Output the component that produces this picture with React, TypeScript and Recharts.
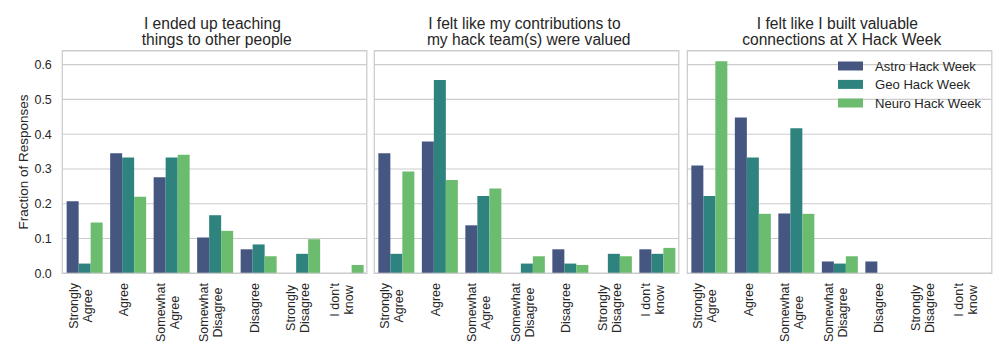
import React from "react";
import { BarChart, Bar, XAxis, YAxis, CartesianGrid } from "recharts";

const categories = [
  "Strongly\nAgree",
  "Agree",
  "Somewhat\nAgree",
  "Somewhat\nDisagree",
  "Disagree",
  "Strongly\nDisagree",
  "I don't\nknow",
];

const seriesNames = ["Astro Hack Week", "Geo Hack Week", "Neuro Hack Week"];
const seriesColors = ["#455681", "#2f837f", "#6bbc6e"];

const panelTitles = [
  ["I ended up teaching ", " things to other people"],
  ["I felt like my contributions to ", " my hack team(s) were valued"],
  ["I felt like I built valuable ", " connections at X Hack Week"],
];

// Panel 1: teaching
const teachingAstro = [0.207, 0.345, 0.276, 0.103, 0.069, 0, 0];
const teachingGeo = [0.028, 0.333, 0.333, 0.167, 0.083, 0.056, 0];
const teachingNeuro = [0.146, 0.22, 0.341, 0.122, 0.049, 0.098, 0.024];

// Panel 2: contributions valued
const valuedAstro = [0.345, 0.379, 0.138, 0, 0.069, 0, 0.069];
const valuedGeo = [0.056, 0.556, 0.222, 0.028, 0.028, 0.056, 0.056];
const valuedNeuro = [0.293, 0.268, 0.244, 0.049, 0.024, 0.049, 0.073];

// Panel 3: valuable connections
const connectAstro = [0.31, 0.448, 0.172, 0.034, 0.034, 0, 0];
const connectGeo = [0.222, 0.333, 0.417, 0.028, 0, 0, 0];
const connectNeuro = [0.61, 0.171, 0.171, 0.049, 0, 0, 0];

const yTicks = [0, 0.1, 0.2, 0.3, 0.4, 0.5, 0.6];
const yDomain = [0, 0.64];
const yLabel = "Fraction of Responses";

const panelSeries = [
  [teachingAstro, teachingGeo, teachingNeuro],
  [valuedAstro, valuedGeo, valuedNeuro],
  [connectAstro, connectGeo, connectNeuro],
];

const FONT = '"Liberation Sans", Arial, sans-serif';
const TEXT = "#262626";
const GRID = "#cccccc";
const PANEL_LEFTS = [62.3, 374.3, 687.3];
const PLOT_W = 304.5;
const PLOT_TOP = 50.7;
const PLOT_BOTTOM = 273.3;
const H = 360;

let ctx: CanvasRenderingContext2D | null = null;
function textWidth(s: string, size: number): number {
  if (!ctx) ctx = document.createElement("canvas").getContext("2d");
  if (!ctx) return s.length * size * 0.55;
  ctx.font = `${size}px "Liberation Sans"`;
  return ctx.measureText(s).width;
}

function XTick(props: any) {
  const { x, y, payload } = props;
  const lines = String(payload.value).split("\n");
  const fs = 12.5;
  const w = Math.max(...lines.map((l) => textWidth(l, fs)));
  const n = lines.length;
  const spacing = 14.2;
  return (
    <g transform={`translate(${x},${y + 9.7}) rotate(-90)`}>
      {lines.map((l, i) => (
        <text
          key={i}
          x={-w / 2}
          y={0.6 + (i - (n - 1) / 2) * spacing}
          textAnchor="middle"
          fontSize={fs}
          fill={TEXT}
          fontFamily={FONT}
        >
          {l}
        </text>
      ))}
    </g>
  );
}

function EmptyTick() {
  return <g />;
}

function Panel({ index }: { index: number }) {
  const [a, g, nn] = panelSeries[index];
  const data = categories.map((c, i) => ({ cat: c, astro: a[i], geo: g[i], neuro: nn[i] }));
  const first = index === 0;
  const yW = first ? PANEL_LEFTS[0] : 0;
  const left = first ? 0 : PANEL_LEFTS[index];
  const rightPad = 8;
  const width = yW + PLOT_W + rightPad;
  return (
    <div style={{ position: "absolute", left, top: 0, width, height: H }}>
      <BarChart
        width={width}
        height={H}
        data={data}
        margin={{ top: PLOT_TOP, right: rightPad, bottom: 0, left: 0 }}
        barCategoryGap="10%"
        barGap={0}
      >
        <CartesianGrid vertical={false} stroke={GRID} strokeWidth={1.1} />
        <XAxis
          dataKey="cat"
          height={H - PLOT_BOTTOM}
          tickLine={false}
          axisLine={false}
          tickSize={0}
          tickMargin={0}
          interval={0}
          tick={<XTick />}
        />
        <YAxis
          domain={yDomain}
          ticks={yTicks}
          width={yW}
          tickLine={false}
          axisLine={false}
          tickSize={0}
          tickMargin={10.5}
          tickFormatter={(v: number) => v.toFixed(1)}
          tick={first ? { fill: TEXT, fontSize: 12.5, fontFamily: FONT } : <EmptyTick />}
        />
        <Bar dataKey="astro" name={seriesNames[0]} fill={seriesColors[0]} isAnimationActive={false} />
        <Bar dataKey="geo" name={seriesNames[1]} fill={seriesColors[1]} isAnimationActive={false} />
        <Bar dataKey="neuro" name={seriesNames[2]} fill={seriesColors[2]} isAnimationActive={false} />
      </BarChart>
    </div>
  );
}

export default function App() {
  const legendRows = [66, 84.4, 103];
  return (
    <div style={{ position: "absolute", left: 0, top: 0, width: 1008, height: H, background: "#fff" }}>
      {[0, 1, 2].map((i) => (
        <Panel key={i} index={i} />
      ))}
      <svg
        width={1008}
        height={H}
        style={{ position: "absolute", left: 0, top: 0, pointerEvents: "none" }}
      >
        {PANEL_LEFTS.map((l, i) => (
          <rect
            key={"f" + i}
            x={l}
            y={PLOT_TOP}
            width={PLOT_W}
            height={PLOT_BOTTOM - PLOT_TOP}
            fill="none"
            stroke={GRID}
            strokeWidth={1.25}
          />
        ))}
        {PANEL_LEFTS.map((l, i) =>
          panelTitles[i].map((t, j) => (
            <text
              key={"t" + i + j}
              x={l + PLOT_W / 2}
              y={29.3 + j * 15.8}
              textAnchor="middle"
              fontSize={15.6}
              fill={TEXT}
              fontFamily={FONT}
              style={{ whiteSpace: "pre" }}
            >
              {t}
            </text>
          ))
        )}
        <text
          transform={`translate(28,${(PLOT_TOP + PLOT_BOTTOM) / 2}) rotate(-90)`}
          textAnchor="middle"
          fontSize={13.5}
          fill={TEXT}
          fontFamily={FONT}
        >
          {yLabel}
        </text>
        {seriesNames.map((s, i) => (
          <g key={"l" + i}>
            <rect x={838} y={legendRows[i] - 4.5} width={25} height={9} fill={seriesColors[i]} />
            <text x={875} y={legendRows[i] + 4.7} fontSize={13.1} fill={TEXT} fontFamily={FONT}>
              {s}
            </text>
          </g>
        ))}
      </svg>
    </div>
  );
}
